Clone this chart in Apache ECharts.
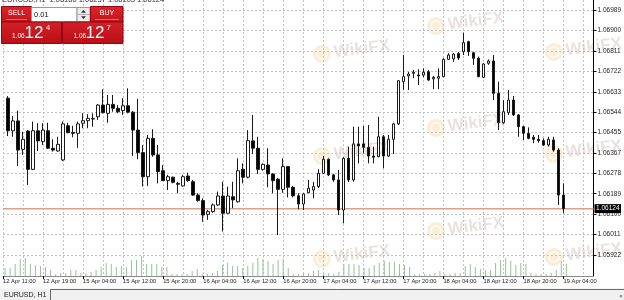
<!DOCTYPE html>
<html><head><meta charset="utf-8">
<script src="https://cdn.jsdelivr.net/npm/echarts@6/dist/echarts.min.js"></script>
<style>html,body{margin:0;padding:0;background:#fff;overflow:hidden}#c{width:624px;height:300px}</style>
</head><body><div id="c"></div>
<script>
// ---- data ----
const dayBlocks = [["12 Apr",11,22],["15 Apr",0,23],["16 Apr",0,23],["17 Apr",0,23],["18 Apr",0,23],["19 Apr",0,10]];
const tickLabels = ["12 Apr 11:00","12 Apr 19:00","15 Apr 04:00","15 Apr 12:00","15 Apr 20:00","16 Apr 04:00","16 Apr 12:00","16 Apr 20:00","17 Apr 04:00","17 Apr 12:00","17 Apr 20:00","18 Apr 04:00","18 Apr 12:00","18 Apr 20:00","19 Apr 04:00"];
const yTicks = [1.06989,1.06900,1.06811,1.06722,1.06633,1.06544,1.06455,1.06367,1.06278,1.06189,1.06100,1.06011,1.05922];
const openV = [1.06605,1.06463,1.06506,1.06382,1.06462,1.06295,1.06463,1.06416,1.06463,1.06387,1.06375,1.06336,1.06485,1.06456,1.06452,1.06496,1.06507,1.06514,1.06524,1.06575,1.06539,1.06578,1.06561,1.06551,1.06572,1.06544,1.06466,1.06368,1.06263,1.06430,1.06358,1.06289,1.06246,1.06261,1.06234,1.06223,1.06266,1.06241,1.06183,1.06159,1.06099,1.06111,1.06140,1.06179,1.06104,1.06176,1.06154,1.06295,1.06261,1.06419,1.06387,1.06295,1.06314,1.06275,1.06252,1.06208,1.06307,1.06217,1.06180,1.06144,1.06193,1.06205,1.06220,1.06278,1.06339,1.06271,1.06249,1.06118,1.06343,1.06249,1.06406,1.06406,1.06391,1.06353,1.06350,1.06437,1.06353,1.06426,1.06493,1.06677,1.06702,1.06713,1.06706,1.06706,1.06720,1.06689,1.06692,1.06699,1.06774,1.06776,1.06800,1.06807,1.06851,1.06803,1.06779,1.06696,1.06757,1.06767,1.06626,1.06498,1.06542,1.06597,1.06532,1.06481,1.06452,1.06435,1.06426,1.06420,1.06401,1.06423,1.06379,1.06183];
const closeV = [1.06463,1.06506,1.06379,1.06426,1.06295,1.06463,1.06419,1.06466,1.06387,1.06379,1.06404,1.06493,1.06455,1.06452,1.06493,1.06507,1.06517,1.06517,1.06575,1.06542,1.06578,1.06561,1.06546,1.06572,1.06544,1.06466,1.06368,1.06263,1.06430,1.06358,1.06285,1.06246,1.06263,1.06239,1.06230,1.06263,1.06246,1.06183,1.06159,1.06096,1.06111,1.06140,1.06179,1.06104,1.06179,1.06162,1.06289,1.06261,1.06420,1.06387,1.06295,1.06317,1.06275,1.06246,1.06208,1.06307,1.06217,1.06180,1.06144,1.06188,1.06213,1.06220,1.06278,1.06339,1.06271,1.06249,1.06118,1.06343,1.06249,1.06406,1.06397,1.06391,1.06353,1.06348,1.06437,1.06353,1.06426,1.06493,1.06681,1.06699,1.06710,1.06718,1.06702,1.06718,1.06684,1.06696,1.06699,1.06774,1.06793,1.06797,1.06780,1.06847,1.06807,1.06779,1.06699,1.06754,1.06767,1.06626,1.06498,1.06546,1.06597,1.06532,1.06481,1.06452,1.06430,1.06426,1.06420,1.06401,1.06426,1.06379,1.06183,1.06124];
const lowV = [1.06440,1.06437,1.06310,1.06358,1.06227,1.06292,1.06375,1.06401,1.06384,1.06372,1.06372,1.06331,1.06452,1.06435,1.06389,1.06474,1.06474,1.06481,1.06510,1.06539,1.06498,1.06546,1.06539,1.06532,1.06539,1.06353,1.06339,1.06220,1.06223,1.06350,1.06234,1.06244,1.06205,1.06234,1.06191,1.06220,1.06241,1.06179,1.06154,1.06067,1.06075,1.06106,1.06136,1.06024,1.06101,1.06126,1.06150,1.06234,1.06256,1.06362,1.06275,1.06289,1.06217,1.06191,1.06009,1.06193,1.06173,1.06173,1.06121,1.06118,1.06191,1.06169,1.06213,1.06275,1.06266,1.06241,1.06096,1.06060,1.06240,1.06241,1.06321,1.06365,1.06321,1.06321,1.06348,1.06300,1.06350,1.06362,1.06488,1.06641,1.06641,1.06692,1.06662,1.06696,1.06680,1.06644,1.06644,1.06696,1.06771,1.06763,1.06771,1.06793,1.06789,1.06750,1.06696,1.06692,1.06750,1.06597,1.06466,1.06493,1.06532,1.06527,1.06437,1.06423,1.06426,1.06409,1.06411,1.06397,1.06394,1.06372,1.06140,1.06104];
const highV = [1.06614,1.06527,1.06551,1.06459,1.06466,1.06503,1.06496,1.06496,1.06498,1.06426,1.06437,1.06503,1.06498,1.06485,1.06503,1.06539,1.06535,1.06539,1.06580,1.06644,1.06619,1.06619,1.06575,1.06605,1.06648,1.06549,1.06602,1.06401,1.06445,1.06470,1.06401,1.06314,1.06271,1.06263,1.06241,1.06271,1.06281,1.06249,1.06191,1.06169,1.06118,1.06147,1.06198,1.06241,1.06220,1.06241,1.06343,1.06321,1.06466,1.06532,1.06437,1.06321,1.06387,1.06278,1.06257,1.06343,1.06310,1.06223,1.06191,1.06191,1.06249,1.06241,1.06295,1.06353,1.06343,1.06275,1.06292,1.06348,1.06394,1.06481,1.06481,1.06484,1.06488,1.06394,1.06524,1.06445,1.06445,1.06498,1.06684,1.06793,1.06720,1.06728,1.06731,1.06735,1.06728,1.06702,1.06735,1.06779,1.06801,1.06802,1.06807,1.06890,1.06855,1.06807,1.06786,1.06757,1.06774,1.06793,1.06677,1.06597,1.06641,1.06615,1.06536,1.06484,1.06478,1.06445,1.06445,1.06430,1.06437,1.06437,1.06387,1.06234];
const volumes = [800,800,1200,1700,1800,1200,1100,1000,900,600,200,300,300,600,600,300,300,400,600,900,1300,1200,900,1000,900,1600,1600,2000,1200,1200,1200,900,900,200,200,200,200,500,700,200,200,300,500,1100,1300,1000,1000,800,1000,1300,1800,1700,1500,1200,1600,1700,800,200,200,200,300,500,600,300,300,200,400,1200,1200,1200,1100,800,800,1100,1300,1500,1400,1400,1200,1100,900,200,200,200,200,300,500,200,200,300,300,1000,1200,900,700,600,600,1300,1600,1800,1500,1100,1300,1200,300,200,200,200,300,600,1500,1200];
const lastPrice = 1.06124;
const headerText = "EURUSD,H1  1.06180 1.06237 1.06103 1.06124";
const lotText = "0.01";
const bidParts = ["1.06", "12", "4"];
const askParts = ["1.06", "12", "7"];

// ---- build ----
const categories = [];
dayBlocks.forEach(([d, h0, h1]) => { for (let h = h0; h <= h1; h++) categories.push(d + ' ' + String(h).padStart(2, '0') + ':00'); });
const EMPTY = ['-', '-', '-', '-'];
const candles = [EMPTY].concat(openV.map((o, i) => [o, closeV[i], lowV[i], highV[i]]));
const volData = ['-'].concat(volumes);
const priceLine = [[categories[0], lastPrice], [categories[categories.length - 1], lastPrice]];

const FONT = "'Liberation Sans', Arial, sans-serif";
const GL = -2.2, GR = 27.3, GB = 24;
const yMin = 1.058306, yMax = 1.070326;
const labelInterval = (i, v) => tickLabels.indexOf(v) >= 0;
const gridColor = '#c2c2c2';

const red = new echarts.graphic.LinearGradient(0, 0, 0, 1, [{offset: 0, color: '#e0252c'}, {offset: 1, color: '#c0141c'}]);
const red2 = new echarts.graphic.LinearGradient(0, 0, 0, 1, [{offset: 0, color: '#d61f27'}, {offset: 1, color: '#b70f17'}]);

function wm(x, y) {
  return {
    type: 'group', x: x, y: y, rotation: 0.12, z: 50, silent: true,
    children: [
      {type: 'circle', shape: {cx: 9, cy: 0, r: 9}, style: {fill: 'rgba(240,195,120,0.28)'}},
      {type: 'circle', shape: {cx: 9, cy: 0, r: 5}, style: {fill: 'none', stroke: 'rgba(255,255,255,0.6)', lineWidth: 2}},
      {type: 'text', x: 21, y: 0, style: {text: 'WikiFX', fill: 'rgba(170,140,130,0.26)', font: 'bold 17px ' + FONT, verticalAlign: 'middle', align: 'left'}}
    ]
  };
}

const graphics = [
  {type: 'text', x: 2, y: 4, z: 60, style: {text: headerText, fill: '#333', font: '7.5px ' + FONT, verticalAlign: 'bottom', align: 'left'}},
  wm(313, 55), wm(313, 157), wm(313, 260),
  wm(427, 27), wm(427, 129), wm(427, 232),
  wm(545, 53), wm(545, 155), wm(545, 258),
  {type: 'rect', z: 70, shape: {x: 1.5, y: 6.5, width: 30, height: 15.5}, style: {fill: red, stroke: '#8e0a10', lineWidth: 1}},
  {type: 'line', z: 71, shape: {x1: 6, y1: 19.5, x2: 27, y2: 19.5}, style: {stroke: 'rgba(255,255,255,0.35)', lineWidth: 1}},
  {type: 'text', z: 72, x: 16.5, y: 13.5, style: {text: 'SELL', fill: '#fff', font: '7px ' + FONT, align: 'center', verticalAlign: 'middle'}},
  {type: 'rect', z: 70, shape: {x: 31.5, y: 7.5, width: 45.5, height: 14}, style: {fill: '#fff', stroke: '#9a9a9a', lineWidth: 1}},
  {type: 'text', z: 72, x: 34, y: 14.5, style: {text: lotText, fill: '#111', font: '7.5px ' + FONT, align: 'left', verticalAlign: 'middle'}},
  {type: 'rect', z: 70, shape: {x: 77, y: 7.5, width: 13, height: 14}, style: {fill: '#ececec', stroke: '#9a9a9a', lineWidth: 1}},
  {type: 'line', z: 71, shape: {x1: 77.5, y1: 14.5, x2: 89.5, y2: 14.5}, style: {stroke: '#b0b0b0', lineWidth: 1}},
  {type: 'polygon', z: 72, shape: {points: [[81, 12.7], [86, 12.7], [83.5, 10]]}, style: {fill: '#333'}},
  {type: 'polygon', z: 72, shape: {points: [[81, 16.3], [86, 16.3], [83.5, 19]]}, style: {fill: '#333'}},
  {type: 'rect', z: 70, shape: {x: 90.5, y: 6.5, width: 32.5, height: 15.5}, style: {fill: red, stroke: '#8e0a10', lineWidth: 1}},
  {type: 'line', z: 71, shape: {x1: 95, y1: 19.5, x2: 119, y2: 19.5}, style: {stroke: 'rgba(255,255,255,0.35)', lineWidth: 1}},
  {type: 'text', z: 72, x: 107, y: 13.5, style: {text: 'BUY', fill: '#fff', font: '7px ' + FONT, align: 'center', verticalAlign: 'middle'}},
  {type: 'rect', z: 70, shape: {x: 1.5, y: 22, width: 60, height: 21.5}, style: {fill: red2, stroke: '#8e0a10', lineWidth: 1}},
  {type: 'rect', z: 70, shape: {x: 62.5, y: 22, width: 60.5, height: 21.5}, style: {fill: red2, stroke: '#8e0a10', lineWidth: 1}},
  {type: 'text', z: 72, x: 12, y: 36.5, style: {text: bidParts[0], fill: '#fff', font: '6.5px ' + FONT, align: 'left', verticalAlign: 'middle'}},
  {type: 'text', z: 72, x: 24.5, y: 33.5, style: {text: bidParts[1], fill: '#fff', font: '17px ' + FONT, align: 'left', verticalAlign: 'middle'}},
  {type: 'text', z: 72, x: 46, y: 27.5, style: {text: bidParts[2], fill: '#fff', font: '7.5px ' + FONT, align: 'left', verticalAlign: 'middle'}},
  {type: 'text', z: 72, x: 73.5, y: 36.5, style: {text: askParts[0], fill: '#fff', font: '6.5px ' + FONT, align: 'left', verticalAlign: 'middle'}},
  {type: 'text', z: 72, x: 85.5, y: 33.5, style: {text: askParts[1], fill: '#fff', font: '17px ' + FONT, align: 'left', verticalAlign: 'middle'}},
  {type: 'text', z: 72, x: 106.5, y: 27.5, style: {text: askParts[2], fill: '#fff', font: '7.5px ' + FONT, align: 'left', verticalAlign: 'middle'}},
  {type: 'rect', z: 80, shape: {x: 0, y: 288.5, width: 624, height: 12}, style: {fill: '#f0f0f0'}},
  {type: 'line', z: 81, shape: {x1: 50.5, y1: 289.5, x2: 624, y2: 289.5}, style: {stroke: '#6a6a6a', lineWidth: 1}},
  {type: 'line', z: 81, shape: {x1: 50.5, y1: 289.5, x2: 50.5, y2: 300}, style: {stroke: '#6a6a6a', lineWidth: 1}},
  {type: 'text', z: 82, x: 4, y: 295.5, style: {text: 'EURUSD, H1', fill: '#222', font: '7px ' + FONT, align: 'left', verticalAlign: 'middle'}},
  {type: 'text', z: 82, x: 621, y: 296.5, style: {text: '×', fill: '#444', font: '6px ' + FONT, align: 'center', verticalAlign: 'middle'}}
];

const option = {
  animation: false,
  backgroundColor: '#fff',
  textStyle: {fontFamily: FONT},
  grid: [
    {left: GL, right: GR, top: 0, bottom: GB},
    {left: GL, right: GR, top: 246, bottom: GB}
  ],
  xAxis: [
    {
      type: 'category', gridIndex: 0, data: categories, boundaryGap: false,
      axisLine: {show: true, lineStyle: {color: '#8a8a8a', width: 1}},
      axisTick: {show: true, length: 3, interval: labelInterval, lineStyle: {color: '#000'}},
      axisLabel: {interval: labelInterval, align: 'left', fontSize: 5.8, color: '#222', margin: 2, hideOverlap: false},
      splitLine: {show: true, interval: (i) => i % 4 === 0, lineStyle: {color: gridColor, type: [2, 2], width: 1}}
    },
    {type: 'category', gridIndex: 1, data: categories, boundaryGap: false, show: false}
  ],
  yAxis: [
    {
      type: 'value', gridIndex: 0, position: 'right', min: yMin, max: yMax,
      axisLine: {show: true, lineStyle: {color: '#000', width: 1}},
      axisTick: {show: true, length: 3, customValues: yTicks, lineStyle: {color: '#000'}},
      axisLabel: {customValues: yTicks, formatter: (v) => v.toFixed(5), fontSize: 6.5, color: '#222', margin: 4},
      splitLine: {show: true, lineStyle: {color: gridColor, type: [2, 2], width: 1}}
    },
    {type: 'value', gridIndex: 1, min: 0, max: 3000, show: false}
  ],
  series: [
    {
      type: 'bar', xAxisIndex: 1, yAxisIndex: 1, data: volData, barWidth: 1, silent: true,
      itemStyle: {color: '#94c494'}
    },
    {
      type: 'line', xAxisIndex: 0, yAxisIndex: 0, data: priceLine, silent: true, z: 1,
      showSymbol: false, symbol: 'none',
      lineStyle: {color: '#d8a388', width: 1.5},
      endLabel: {show: true, distance: 1, formatter: () => lastPrice.toFixed(5),
        backgroundColor: '#000', color: '#fff', fontSize: 6.5, padding: [1, 1.5, 1, 1.5]}
    },
    {
      type: 'candlestick', xAxisIndex: 0, yAxisIndex: 0, data: candles, barWidth: 3, silent: true, z: 3,
      itemStyle: {color: '#fff', color0: '#000', borderColor: '#1a1a1a', borderColor0: '#1a1a1a', borderWidth: 1}
    }
  ],
  graphic: graphics
};

const chart = echarts.init(document.getElementById('c'), null, {renderer: 'canvas', width: 624, height: 300});
chart.setOption(option);
</script>
</body></html>
